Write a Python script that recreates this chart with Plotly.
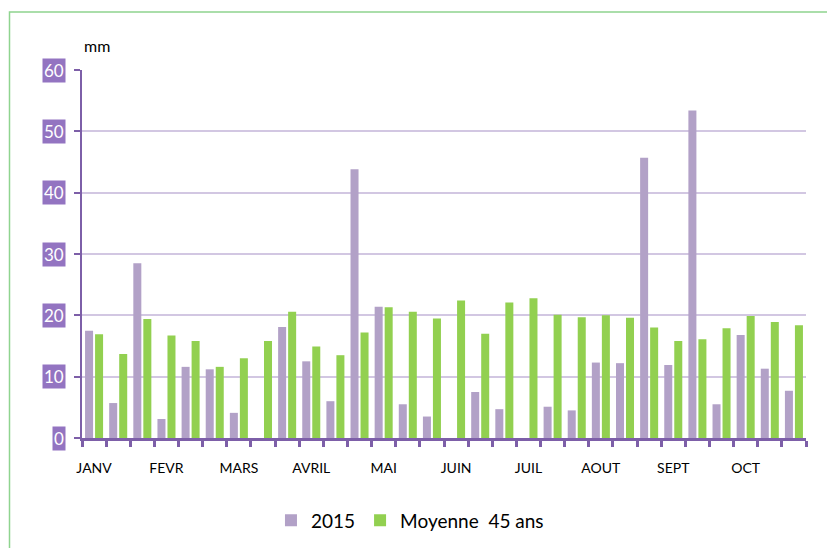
import plotly.graph_objects as go

months = ["JANV", "FEVR", "MARS", "AVRIL", "MAI", "JUIN", "JUIL", "AOUT", "SEPT", "OCT"]
# decade rainfall (mm), 3 decades per month
rain_2015 = [17.5, 5.7, 28.5, 3.1, 11.6, 11.2, 4.1, 0.0, 18.1, 12.5,
             6.0, 43.8, 21.4, 5.5, 3.5, 0.0, 7.5, 4.7, 0.0, 5.1,
             4.5, 12.3, 12.2, 45.7, 11.9, 53.4, 5.5, 16.8, 11.3, 7.7]
rain_avg45 = [16.9, 13.7, 19.4, 16.7, 15.8, 11.6, 13.0, 15.8, 20.6, 14.9,
              13.5, 17.2, 21.3, 20.6, 19.5, 22.4, 17.0, 22.1, 22.8, 20.1,
              19.7, 20.0, 19.6, 18.0, 15.8, 16.1, 17.9, 19.9, 18.9, 18.4]
y_ticks = [0, 10, 20, 30, 40, 50, 60]

n = len(rain_2015)
xs = list(range(n))

W, H = 827, 548
ml, mr, mt, mb = 82, 21, 70, 110
pw, ph = W - ml - mr, H - mt - mb

PURPLE = "#b2a1c7"
GREEN = "#92d050"
AXIS = "#7d5fa8"
GRID = "#d2c7e2"
FONT = "Lato, Liberation Sans, sans-serif"

fig = go.Figure()
fig.add_trace(go.Bar(x=xs, y=rain_2015, name="2015", marker=dict(color=PURPLE, line=dict(width=0))))
fig.add_trace(go.Bar(x=xs, y=rain_avg45, name="Moyenne  45 ans", marker=dict(color=GREEN, line=dict(width=0))))

month_pos = [i * 3 for i in range(len(months))]
boundaries = [i - 0.5 for i in range(n + 1)]

fig.update_layout(
    width=W, height=H,
    margin=dict(l=ml, r=mr, t=mt, b=mb, pad=0, autoexpand=False),
    paper_bgcolor="white", plot_bgcolor="white",
    barmode="group", bargap=0.17, bargroupgap=0.2,
    font=dict(family=FONT, color="#000000"),
    showlegend=True,
    legend=dict(orientation="h", x=0.453, xanchor="center", y=-0.224, yanchor="middle",
                font=dict(size=19, family=FONT, color="#000000"), bgcolor="rgba(0,0,0,0)",
                traceorder="normal"),
    xaxis=dict(range=[-0.5, n - 0.5], tickmode="array", tickvals=month_pos, ticktext=months,
               ticks="", showgrid=False, zeroline=False,
               showline=True, linecolor=AXIS, linewidth=3,
               tickfont=dict(size=14, family=FONT, color="#000000"),
               ticklabelstandoff=15,
               minor=dict(tickmode="array", tickvals=boundaries, ticks="outside",
                          ticklen=6, tickwidth=2.5, tickcolor=AXIS, showgrid=False)),
    yaxis=dict(range=[0, 60], tickmode="array", tickvals=y_ticks, showticklabels=False,
               ticks="outside", ticklen=6, tickwidth=2, tickcolor=AXIS,
               showgrid=True, gridcolor=GRID, gridwidth=1.5,
               zeroline=False, showline=True, linecolor=AXIS, linewidth=2),
)

annotations = []
for v in y_ticks:
    annotations.append(dict(x=0, xref="paper", y=v, yref="y", text=str(v), showarrow=False,
                            xanchor="right", yanchor="middle", xshift=-16,
                            bgcolor="#9374c1", borderpad=1,
                            font=dict(size=17, family=FONT, color="white")))
annotations.append(dict(x=0, xref="paper", y=1, yref="paper", text="mm", showarrow=False,
                        xanchor="left", yanchor="middle", xshift=0, yshift=25,
                        font=dict(size=16, family=FONT, color="#000000")))
fig.update_layout(annotations=annotations)

# outer green frame
fx0 = (9.5 - ml) / pw
fx1 = (W + 5 - ml) / pw
fy1 = (H - mb - 12) / ph
fy0 = -(mb + 10) / ph
fig.add_shape(type="rect", xref="paper", yref="paper", x0=fx0, x1=fx1, y0=fy0, y1=fy1,
              line=dict(color="#8fd48f", width=1.5), layer="below")

fig.write_html("out.html", config={"displayModeBar": False},
               post_script="document.body.style.margin='0';document.body.style.padding='0';")
